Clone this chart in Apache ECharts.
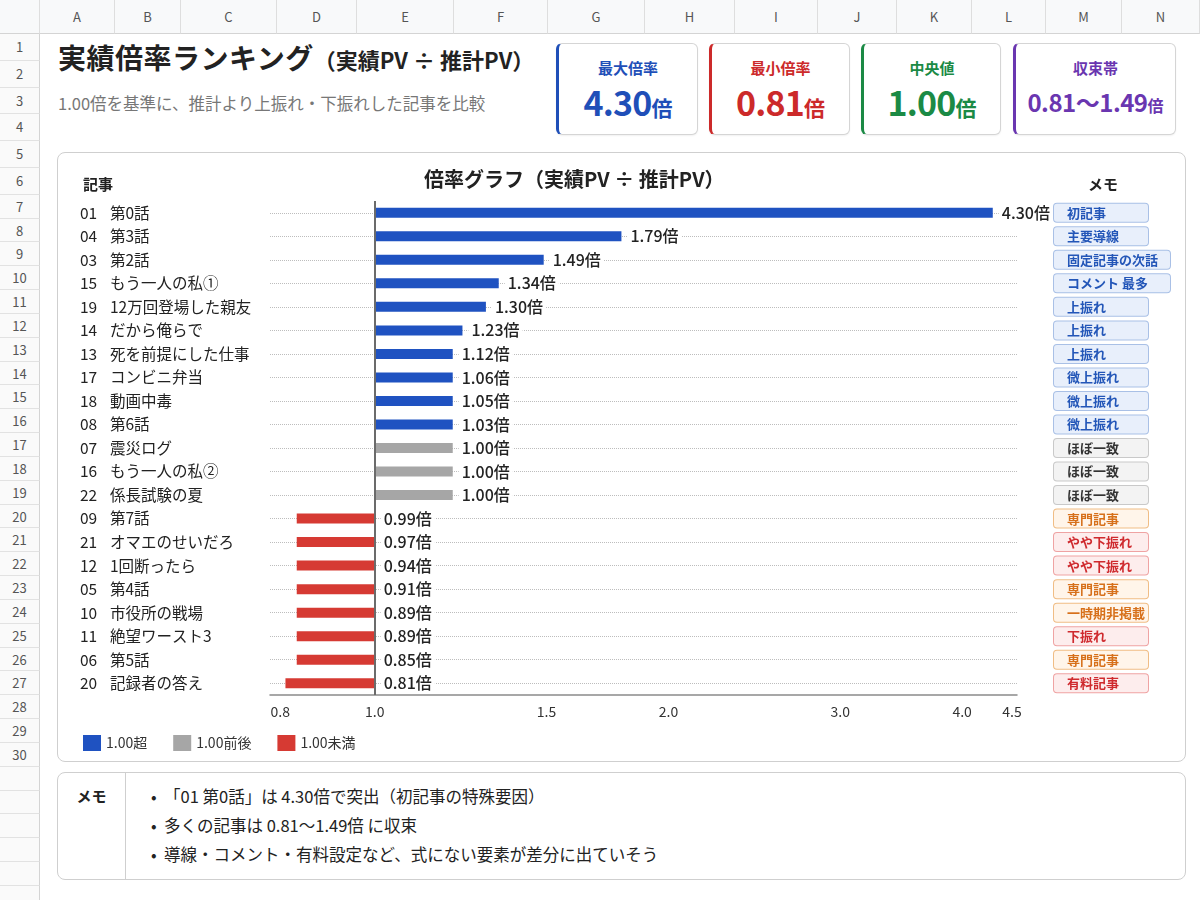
<!DOCTYPE html>
<html>
<head>
<meta charset="utf-8">
<script src="https://cdn.jsdelivr.net/npm/echarts@6/dist/echarts.min.js"></script>
<style>
  html, body { margin: 0; padding: 0; }
  body { width: 1200px; height: 900px; position: relative; overflow: hidden; background: #fff;
         font-family: "Noto Sans CJK JP", "Noto Sans", sans-serif; color: #222; }
  .abs { position: absolute; box-sizing: border-box; }
  .colhead { top: 0; height: 34px; border-right: 1px solid #dedede; border-bottom: 1px solid #d4d4d4;
             background: #f8f9fa; font-size: 13px; color: #555; text-align: center; line-height: 34px; }
  .rowhead { left: 0; width: 40px; border-bottom: 1px solid #e2e2e2; border-right: 1px solid #d4d4d4;
             background: #fafafa; font-size: 13px; color: #555; text-align: center; }
  .card { top: 43px; height: 92px; background: #fff; border: 1px solid #d5d5d5; border-radius: 6px;
          text-align: center; box-shadow: 0 1px 2px rgba(0,0,0,0.06); }
  .card .lbl { margin-top: 13px; font-size: 15px; font-weight: 600; line-height: 22px; }
  .card .val { margin-top: 2px; font-size: 34px; font-weight: 700; line-height: 42px; letter-spacing: -0.8px; }
  .card .val small { font-size: 21px; font-weight: 700; letter-spacing: 0; }
  .panel { background: #fff; border: 1px solid #cfcfcf; border-radius: 8px; }
  #chart { position: absolute; left: 0; top: 0; width: 1200px; height: 900px; }
  .memo li { list-style: none; position: relative; height: 29px; line-height: 29px; }
  .memo li:before { content: "•"; position: absolute; left: -13px; }
</style>
</head>
<body>
<div id="sheet"></div>

<div class="abs" style="left:58px; top:37px; white-space:nowrap;">
  <span style="font-size:28px; font-weight:700; letter-spacing:0.5px;">実績倍率ランキング</span><span style="font-size:22px; font-weight:700;">（実績PV ÷ 推計PV）</span>
</div>
<div class="abs" style="left:58px; top:91px; font-size:16.5px; color:#777; white-space:nowrap;">1.00倍を基準に、推計より上振れ・下振れした記事を比較</div>

<div id="cards"></div>

<div class="abs panel" style="left:57px; top:152px; width:1129px; height:610px;"></div>

<div class="abs panel memo" style="left:57px; top:772px; width:1129px; height:108px;">
  <div class="abs" style="left:0; top:0; width:68px; height:106px; border-right:1px solid #cfcfcf; text-align:center; font-size:15px; font-weight:700; padding-top:12px;">メモ</div>
  <ul id="notes" class="abs" style="left:106px; top:9px; margin:0; padding:0; font-size:16.5px; color:#222;"></ul>
</div>

<div id="chart"></div>

<script>
// data
var articles = ['01 第0話', '04 第3話', '03 第2話', '15 もう一人の私①', '19 12万回登場した親友',
  '14 だから俺らで', '13 死を前提にした仕事', '17 コンビニ弁当', '18 動画中毒', '08 第6話',
  '07 震災ログ', '16 もう一人の私②', '22 係長試験の夏', '09 第7話', '21 オマエのせいだろ',
  '12 1回断ったら', '05 第4話', '10 市役所の戦場', '11 絶望ワースト3', '06 第5話', '20 記録者の答え'];
var ratios = [4.30, 1.79, 1.49, 1.34, 1.30, 1.23, 1.12, 1.06, 1.05, 1.03,
  1.00, 1.00, 1.00, 0.99, 0.97, 0.94, 0.91, 0.89, 0.89, 0.85, 0.81];
var memos = ['初記事', '主要導線', '固定記事の次話', 'コメント 最多', '上振れ', '上振れ', '上振れ',
  '微上振れ', '微上振れ', '微上振れ', 'ほぼ一致', 'ほぼ一致', 'ほぼ一致', '専門記事', 'やや下振れ',
  'やや下振れ', '専門記事', '一時期非掲載', '下振れ', '専門記事', '有料記事'];
var memoKinds = ['up', 'up', 'up', 'up', 'up', 'up', 'up', 'up', 'up', 'up',
  'flat', 'flat', 'flat', 'note', 'down', 'down', 'note', 'note', 'down', 'note', 'down'];
var xTicks = [0.8, 1.0, 1.5, 2.0, 3.0, 4.0, 4.5];
var band = [0.81, 1.49];
var notes = ['「01 第0話」は 4.30倍で突出（初記事の特殊要因）',
  '多くの記事は 0.81〜1.49倍 に収束',
  '導線・コメント・有料設定など、式にない要素が差分に出ていそう'];

var BLUE = '#1f52c1', GRAY = '#a6a6a6', RED = '#d63a33';

// ---- spreadsheet frame ----
(function () {
  var sheet = document.getElementById('sheet');
  var html = '';
  var cols = [40, 115, 181, 277, 357, 454, 548, 645, 735, 818, 897, 972, 1046, 1122, 1200];
  html += '<div class="abs colhead" style="left:0;width:40px;"></div>';
  for (var c = 0; c < cols.length - 1; c++) {
    html += '<div class="abs colhead" style="left:' + cols[c] + 'px;width:' + (cols[c + 1] - cols[c]) + 'px;">' +
      String.fromCharCode(65 + c) + '</div>';
  }
  var y = 34, r = 1;
  while (y < 900) {
    var h = r <= 6 ? 26.8 : 23.83;
    html += '<div class="abs rowhead" style="top:' + y + 'px;height:' + h + 'px;line-height:' + h + 'px;">' +
      (r <= 30 ? r : '') + '</div>';
    y += h; r++;
  }
  sheet.innerHTML = html;
})();

// ---- KPI cards ----
(function () {
  var sorted = ratios.slice().sort(function (a, b) { return a - b; });
  var median = sorted[Math.floor(sorted.length / 2)];
  var cards = [
    { l: 556, w: 142, c: '#1f4fb8', t: '最大倍率', v: Math.max.apply(null, ratios).toFixed(2) },
    { l: 709, w: 141, c: '#cc2a2a', t: '最小倍率', v: Math.min.apply(null, ratios).toFixed(2) },
    { l: 861, w: 140, c: '#1b8a45', t: '中央値', v: median.toFixed(2) },
    { l: 1013, w: 163, c: '#6a36b0', t: '収束帯', v: band[0].toFixed(2) + '〜' + band[1].toFixed(2), small: true }
  ];
  var html = '';
  cards.forEach(function (k) {
    html += '<div class="abs card" style="left:' + k.l + 'px;width:' + k.w + 'px;border-left:3px solid ' + k.c + ';color:' + k.c + ';">' +
      '<div class="lbl">' + k.t + '</div>' +
      '<div class="val"' + (k.small ? ' style="font-size:24px;letter-spacing:-0.5px;"' : '') + '>' + k.v +
      '<small' + (k.small ? ' style="font-size:16px;"' : '') + '>倍</small></div></div>';
  });
  document.getElementById('cards').innerHTML = html;
  document.getElementById('notes').innerHTML = notes.map(function (n) { return '<li>' + n + '</li>'; }).join('');
})();

// ---- chart ----
var chart = echarts.init(document.getElementById('chart'), null, { renderer: 'canvas' });

function pick(test) {
  return ratios.map(function (v) { return test(v) ? v : '-'; });
}
var isFlat = function (v) { return Math.abs(v - 1) < 0.005; };

var tagColors = {
  up:   { bg: '#e8effb', bd: '#a9c0e6', fg: '#2356b8' },
  flat: { bg: '#f3f3f3', bd: '#c9c9c9', fg: '#333333' },
  note: { bg: '#fff5ea', bd: '#f0bd85', fg: '#d7701a' },
  down: { bg: '#fdeded', bd: '#efa3a3', fg: '#cf2a2e' }
};
var tagRich = {};
Object.keys(tagColors).forEach(function (k) {
  var s = tagColors[k];
  [['', 75], ['W', 97]].forEach(function (w) {
    tagRich[k + w[0]] = {
      backgroundColor: s.bg, borderColor: s.bd, borderWidth: 1, borderRadius: 3,
      color: s.fg, fontSize: 13, fontWeight: 600, width: w[1], height: 18, lineHeight: 18,
      padding: [0, 6, 0, 13], align: 'left'
    };
  });
});

var barLabel = {
  show: true, position: 'right', distance: 6,
  formatter: function (p) { return p.value.toFixed(2) + '倍'; },
  fontSize: 16, fontWeight: 500, color: '#222', backgroundColor: '#fff', padding: [0, 3]
};

function barSeries(name, color, data) {
  return {
    name: name, type: 'bar', data: data, barWidth: 10, barGap: '-100%', barMinHeight: 78,
    itemStyle: { color: color }, label: barLabel, z: 3
  };
}

var option = {
  animation: false,
  textStyle: { fontFamily: '"Noto Sans CJK JP", "Noto Sans", sans-serif' },
  title: [
    { text: '倍率グラフ（実績PV ÷ 推計PV）', left: 419, top: 164,
      textStyle: { fontSize: 20, fontWeight: 'bold', color: '#222' } },
    { text: '記事', left: 78, top: 172, textStyle: { fontSize: 15, fontWeight: 'bold', color: '#222' } },
    { text: 'メモ', left: 1083, top: 172, textStyle: { fontSize: 15, fontWeight: 'bold', color: '#222' } }
  ],
  legend: {
    left: 78, top: 730, icon: 'rect', itemWidth: 18, itemHeight: 16, itemGap: 26,
    textStyle: { fontSize: 14, color: '#333' },
    data: ['1.00超', '1.00前後', '1.00未満']
  },
  grid: { left: 270, right: 183, top: 201, height: 494 },
  xAxis: {
    type: 'log', logBase: 10, min: 0.781, max: 4.553,
    axisLine: { show: true, lineStyle: { color: '#8a8a8a', width: 1.5 } },
    axisTick: { show: false },
    splitLine: { show: false },
    axisLabel: {
      customValues: xTicks, margin: 10, fontSize: 14, color: '#333',
      formatter: function (v) { return Number(v).toFixed(1); }
    }
  },
  yAxis: [
    {
      type: 'category', inverse: true, data: articles,
      axisLine: { show: false }, axisTick: { show: false },
      axisLabel: {
        margin: 190, align: 'left', fontSize: 15, color: '#222',
        formatter: function (v) {
          var i = v.indexOf(' ');
          return '{n|' + v.slice(0, i) + '}{t|' + v.slice(i + 1) + '}';
        },
        rich: { n: { width: 30, fontSize: 15.5, color: '#222' }, t: { fontSize: 15.5, color: '#222' } }
      }
    },
    {
      type: 'category', inverse: true, position: 'right',
      data: memos.map(function (m, i) { return String(i); }),
      axisLine: { show: false }, axisTick: { show: false },
      axisLabel: {
        margin: 37, align: 'left',
        formatter: function (v, i) {
          var t = memos[i];
          return '{' + memoKinds[i] + (t.length > 6 ? 'W' : '') + '|' + t + '}';
        },
        rich: tagRich
      }
    }
  ],
  series: [
    {
      name: 'rows', type: 'line', data: [], silent: true, z: 1,
      markLine: {
        silent: true, symbol: 'none', label: { show: false }, z: 1,
        lineStyle: { type: 'dotted', color: '#bdbdbd', width: 1 },
        data: articles.map(function (a) { return { yAxis: a }; })
      }
    },
    barSeries('1.00超', BLUE, pick(function (v) { return v > 1 && !isFlat(v); })),
    barSeries('1.00前後', GRAY, pick(isFlat)),
    barSeries('1.00未満', RED, pick(function (v) { return v < 1 && !isFlat(v); }))
  ]
};
option.series[1].markLine = {
  silent: true, symbol: 'none', label: { show: false }, z: 5,
  lineStyle: { type: 'solid', color: '#6b6b6b', width: 2 },
  data: [{ xAxis: 1 }]
};

chart.setOption(option);
</script>
</body>
</html>
